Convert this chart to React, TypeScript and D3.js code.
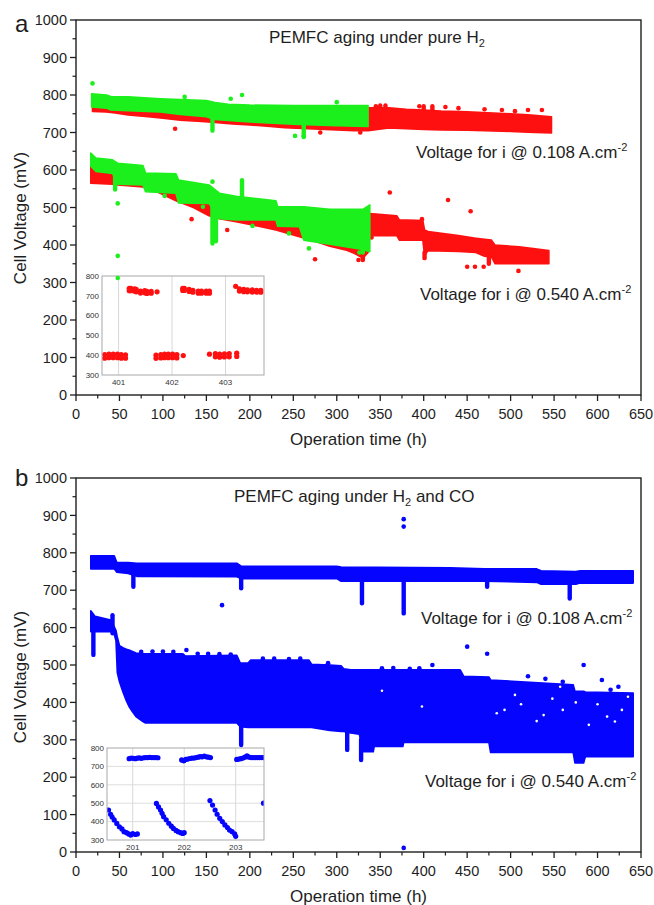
import React from 'react';
import * as d3 from 'd3';

type Band = [number, number, number][];
type Pt = [number, number][];

// ---------- tick values ----------
const X_TICKS = [0, 50, 100, 150, 200, 250, 300, 350, 400, 450, 500, 550, 600, 650];
const X_MINOR = [25, 75, 125, 175, 225, 275, 325, 375, 425, 475, 525, 575, 625];
const Y_TICKS = [0, 100, 200, 300, 400, 500, 600, 700, 800, 900, 1000];
const Y_MINOR = [50, 150, 250, 350, 450, 550, 650, 750, 850, 950];
const INSET_Y_TICKS = [300, 400, 500, 600, 700, 800];
const INSET_A_X_TICKS = [401, 402, 403];
const INSET_B_X_TICKS = [201, 202, 203];

// ---------- panel a : pure H2 (red = long run, green = second run) ----------
// [time h, lower mV, upper mV]
const redUpperA: Band = [
  [19, 756, 775], [35, 755, 775], [45, 752, 772], [60, 747, 770], [80, 743, 768],
  [100, 738, 765], [120, 733, 762], [140, 730, 760], [160, 727, 758], [180, 723, 756],
  [200, 720, 756], [220, 717, 755], [240, 713, 755], [260, 711, 755], [280, 709, 755],
  [300, 707, 755], [320, 705, 755], [336, 705, 766], [360, 712, 766], [380, 710, 762],
  [400, 708, 760], [420, 707, 757], [450, 706, 755], [480, 704, 752], [500, 703, 750],
  [520, 701, 747], [547, 699, 742],
];
const greenUpperA: Band = [
  [18, 768, 803], [35, 765, 800], [40, 760, 796], [60, 758, 795], [97, 755, 790],
  [120, 748, 788], [150, 742, 785], [160, 735, 780], [175, 732, 775], [200, 728, 773],
  [250, 722, 772], [300, 718, 772], [336, 716, 772],
];
const redLowerA: Band = [
  [17, 565, 615], [42, 562, 610], [48, 560, 600], [77, 555, 592], [95, 540, 575],
  [115, 518, 560], [135, 500, 545], [153, 478, 530], [165, 470, 520], [184, 462, 510],
  [210, 450, 500], [230, 440, 493], [257, 422, 476], [275, 410, 465], [292, 397, 450],
  [310, 387, 440], [320, 378, 432], [330, 365, 432], [336, 380, 440], [338, 425, 484],
  [369, 425, 478], [372, 413, 467], [399, 413, 465], [401, 372, 440], [405, 385, 436],
  [440, 383, 425], [460, 380, 418], [470, 370, 415], [478, 368, 413], [482, 350, 400],
  [510, 350, 395], [544, 350, 385],
];
const greenLowerA: Band = [
  [17, 610, 645], [23, 596, 632], [42, 591, 627], [48, 562, 618], [77, 560, 612],
  [80, 542, 592], [115, 538, 590], [118, 512, 573], [153, 511, 560], [165, 470, 538],
  [184, 467, 530], [230, 467, 518], [232, 450, 502], [257, 449, 502], [262, 413, 502],
  [292, 402, 495], [330, 388, 495], [338, 382, 507],
];
// vertical excursions [time, from mV, to mV]
const redSpikesA: Band = [
  [350, 740, 772], [356, 740, 772], [400, 740, 770], [410, 740, 770], [330, 360, 380],
  [401, 365, 380], [475, 350, 375],
];
const greenSpikesA: Band = [
  [157, 705, 745], [262, 688, 725], [45, 548, 600], [157, 404, 545], [161, 410, 530],
  [191, 520, 573], [330, 380, 400],
];
const redDotsA: Pt = [
  [114, 710], [281, 700], [327, 700], [520, 760], [536, 760], [133, 469], [174, 440],
  [275, 362], [361, 540], [428, 520], [454, 490], [398, 469], [340, 420], [373, 420],
  [450, 342], [459, 342], [469, 342], [509, 331], [325, 360], [345, 770], [395, 770],
  [425, 768], [440, 765], [470, 762], [490, 760], [505, 757],
];
const greenDotsA: Pt = [
  [19, 831], [178, 790], [191, 800], [300, 781], [252, 691], [262, 690], [125, 795],
  [48, 511], [48, 371], [48, 312], [157, 569], [102, 531], [146, 502], [203, 451],
  [245, 431], [268, 391], [326, 380],
];
// inset a (zoom on 401-403 h)
const insetARed: Pt = [
  [401.20, 738], [401.20, 726], [401.23, 738], [401.23, 726], [401.30, 735], [401.30, 723],
  [401.33, 732], [401.33, 720], [401.41, 724], [401.41, 714], [401.49, 726], [401.49, 715],
  [401.53, 722], [401.53, 712], [401.61, 722], [401.61, 713], [401.72, 720],
  [402.20, 738], [402.20, 727], [402.23, 738], [402.23, 727], [402.32, 733], [402.32, 722],
  [402.39, 728], [402.39, 718], [402.49, 724], [402.49, 713], [402.55, 724], [402.55, 713],
  [402.64, 724], [402.64, 713], [402.70, 724], [402.70, 713],
  [403.19, 748], [403.26, 735], [403.26, 724], [403.34, 732], [403.34, 721], [403.41, 730],
  [403.41, 720], [403.50, 730], [403.50, 719], [403.58, 728], [403.58, 718], [403.66, 728],
  [403.66, 718],
  [400.74, 403], [400.74, 385], [400.82, 405], [400.82, 387], [400.90, 405], [400.90, 387],
  [400.98, 405], [400.98, 387], [401.05, 403], [401.05, 385], [401.13, 402], [401.13, 385],
  [401.70, 400], [401.70, 384], [401.79, 403], [401.79, 386], [401.86, 405], [401.86, 387],
  [401.93, 405], [401.93, 387], [402.01, 405], [402.01, 387], [402.09, 403], [402.09, 386],
  [402.21, 398],
  [402.70, 405], [402.81, 408], [402.81, 392], [402.89, 406], [402.89, 390], [402.98, 407],
  [402.98, 391], [403.07, 408], [403.07, 392], [403.21, 410], [403.21, 394],
];

// ---------- panel b : H2 + CO ----------
const blueUpperB: Band = [
  [17, 757, 792], [44, 757, 792], [47, 748, 774], [60, 745, 774], [70, 737, 772],
  [185, 736, 772], [190, 731, 764], [300, 731, 764], [305, 724, 762], [430, 724, 760],
  [470, 724, 757], [530, 721, 757], [535, 716, 752], [575, 716, 750], [580, 719, 752],
  [641, 719, 752],
];
const blueLowerB: Band = [
  [17, 589, 645], [22, 589, 630], [40, 589, 620], [44, 582, 602], [46, 565, 592],
  [47.5, 480, 575], [50, 455, 552], [54, 428, 546], [58, 404, 542], [61, 389, 540],
  [65, 375, 536], [69, 362, 532], [77, 349, 530], [80, 345, 530], [123, 345, 530],
  [126, 345, 524], [185, 345, 526], [189, 335, 505], [198, 333, 505], [201, 333, 513],
  [268, 333, 513], [271, 333, 502], [292, 325, 500], [305, 322, 498], [308, 322, 490],
  [316, 318, 487], [326, 315, 487], [330, 268, 487], [342, 268, 487], [343, 282, 487],
  [376, 282, 487], [377, 293, 487], [442, 293, 487], [446, 293, 470], [475, 293, 468],
  [477, 266, 460], [572, 266, 447], [574, 238, 430], [584, 238, 430], [586, 255, 428],
  [641, 255, 425],
];
const blueSpikesB: Band = [
  [66, 709, 740], [190, 705, 735], [329, 665, 725], [377, 638, 725], [473, 709, 725],
  [568, 678, 720], [20, 527, 600], [42, 585, 633], [190, 286, 345], [312, 273, 322],
  [328, 246, 300],
];
const blueDotsB: Pt = [
  [377, 890], [377, 870], [377, 11], [168, 660], [127, 540], [450, 549], [473, 530],
  [410, 500], [584, 500], [605, 460], [624, 442],
  [75, 535], [88, 536], [100, 536], [112, 535], [140, 530], [152, 530], [165, 529],
  [178, 528], [215, 517], [228, 517], [245, 516], [258, 517], [290, 505], [352, 491],
  [365, 492], [384, 490], [395, 491], [520, 470], [540, 463], [560, 455], [615, 434],
];
const whiteHolesB: Pt = [
  [352, 431], [398, 389], [484, 371], [493, 380], [538, 366], [557, 442], [611, 362],
  [620, 349], [512, 395], [530, 350], [560, 380], [600, 395], [628, 380], [590, 340],
  [505, 420], [548, 410], [575, 400], [635, 415],
];
// inset b (zoom on 201-203 h)
const insetBBlue: Pt = [
  [200.93, 742], [200.97, 745], [201.01, 744], [201.05, 742], [201.09, 745], [201.13, 746],
  [201.17, 744], [201.21, 747], [201.25, 748], [201.29, 748], [201.33, 749], [201.37, 748],
  [201.41, 748], [201.45, 748], [201.49, 747],
  [201.95, 735], [201.99, 730], [202.03, 738], [202.07, 740], [202.11, 743], [202.15, 745],
  [202.19, 745], [202.23, 748], [202.27, 750], [202.31, 753], [202.35, 752], [202.39, 756],
  [202.43, 752], [202.47, 750], [202.51, 748],
  [203.02, 738], [203.06, 740], [203.10, 742], [203.14, 745], [203.18, 750], [203.22, 758],
  [203.26, 750], [203.30, 748], [203.34, 748], [203.38, 748], [203.42, 748], [203.46, 748],
  [203.50, 748], [203.54, 748],
  [200.53, 463], [200.57, 440], [200.60, 425], [200.64, 409], [200.69, 390], [200.74, 372],
  [200.79, 360], [200.83, 345], [200.88, 340], [200.92, 333], [200.96, 327], [201.00, 335],
  [201.05, 330], [201.09, 333],
  [201.46, 499], [201.50, 480], [201.54, 463], [201.57, 445], [201.60, 427], [201.65, 410],
  [201.70, 391], [201.75, 375], [201.79, 363], [201.84, 352], [201.88, 345], [201.93, 340],
  [201.97, 336], [202.00, 340],
  [202.50, 514], [202.55, 490], [202.60, 463], [202.64, 440], [202.69, 418], [202.74, 400],
  [202.79, 382], [202.84, 368], [202.88, 354], [202.93, 345], [202.98, 333], [203.00, 320],
  [203.54, 500],
];

// ---------- styling ----------
const RED = '#ff1010';
const GREEN = '#1cf01c';
const BLUE = '#0404ff';
const INK = '#1e1e1e';
const FONT = '"Liberation Sans", Arial, Helvetica, sans-serif';

const X_LEFT = 76;
const X_RIGHT = 641;

type Scale = d3.ScaleLinear<number, number>;

function BandPath({ data, x, y, color }: { data: Band; x: Scale; y: Scale; color: string }) {
  const area = d3
    .area<[number, number, number]>()
    .x((d) => x(d[0]))
    .y0((d) => y(d[1]))
    .y1((d) => y(d[2]))
    .curve(d3.curveLinear);
  return <path d={area(data) || ''} fill={color} stroke={color} strokeWidth={1.6} strokeLinejoin="round" />;
}

function Spikes({ data, x, y, color }: { data: Band; x: Scale; y: Scale; color: string }) {
  return (
    <g>
      {data.map((d, i) => (
        <line key={i} x1={x(d[0])} x2={x(d[0])} y1={y(d[1])} y2={y(d[2])} stroke={color} strokeWidth={4.4} strokeLinecap="round" />
      ))}
    </g>
  );
}

function Dots({ data, x, y, color, r }: { data: Pt; x: Scale; y: Scale; color: string; r: number }) {
  return (
    <g>
      {data.map((d, i) => (
        <circle key={i} cx={x(d[0])} cy={y(d[1])} r={r} fill={color} />
      ))}
    </g>
  );
}

function Axes({ x, y, top, bottom }: { x: Scale; y: Scale; top: number; bottom: number }) {
  return (
    <g fontFamily={FONT} fill={INK}>
      <rect x={X_LEFT} y={top} width={X_RIGHT - X_LEFT} height={bottom - top} fill="none" stroke={INK} strokeWidth={1.4} />
      {Y_TICKS.map((v) => (
        <g key={'y' + v}>
          <line x1={X_LEFT} x2={X_LEFT - 6} y1={y(v)} y2={y(v)} stroke={INK} strokeWidth={1.3} />
          <text x={X_LEFT - 9} y={y(v)} dy="0.36em" textAnchor="end" fontSize={14.5}>{v}</text>
        </g>
      ))}
      {Y_MINOR.map((v) => (
        <line key={'ym' + v} x1={X_LEFT} x2={X_LEFT - 3.5} y1={y(v)} y2={y(v)} stroke={INK} strokeWidth={1.2} />
      ))}
      {X_TICKS.map((v) => (
        <g key={'x' + v}>
          <line x1={x(v)} x2={x(v)} y1={bottom} y2={bottom + 6} stroke={INK} strokeWidth={1.3} />
          <text x={x(v)} y={bottom + 24} textAnchor="middle" fontSize={14.5}>{v}</text>
        </g>
      ))}
      {X_MINOR.map((v) => (
        <line key={'xm' + v} x1={x(v)} x2={x(v)} y1={bottom} y2={bottom + 3.5} stroke={INK} strokeWidth={1.2} />
      ))}
    </g>
  );
}

function Inset({
  id, x, y, left, right, top, bottom, xTicks, hGrid, points, color,
}: {
  id: string; x: Scale; y: Scale; left: number; right: number; top: number; bottom: number;
  xTicks: number[]; hGrid: boolean; points: Pt; color: string;
}) {
  return (
    <g fontFamily={FONT}>
      <defs>
        <clipPath id={id}>
          <rect x={left} y={top} width={right - left} height={bottom - top} />
        </clipPath>
      </defs>
      <rect x={left} y={top} width={right - left} height={bottom - top} fill="#fff" />
      {xTicks.map((v) => (
        <line key={'g' + v} x1={x(v)} x2={x(v)} y1={top} y2={bottom} stroke="#d4d4d4" strokeWidth={0.9} />
      ))}
      {hGrid &&
        INSET_Y_TICKS.slice(1, -1).map((v) => (
          <line key={'h' + v} x1={left} x2={right} y1={y(v)} y2={y(v)} stroke="#dadada" strokeWidth={0.9} />
        ))}
      <g clipPath={`url(#${id})`}>
        <Dots data={points} x={x} y={y} color={color} r={2.6} />
      </g>
      <rect x={left} y={top} width={right - left} height={bottom - top} fill="none" stroke="#a8a8a8" strokeWidth={1} />
      {INSET_Y_TICKS.map((v) => (
        <text key={'yl' + v} x={left - 3} y={y(v)} dy="0.35em" textAnchor="end" fontSize={8} fill="#333">{v}</text>
      ))}
      {xTicks.map((v) => (
        <text key={'xl' + v} x={x(v)} y={bottom + 10} textAnchor="middle" fontSize={8} fill="#333">{v}</text>
      ))}
    </g>
  );
}

export default function App() {
  const x = d3.scaleLinear().domain([0, 650]).range([X_LEFT, X_RIGHT]);
  const yA = d3.scaleLinear().domain([0, 1000]).range([395, 20]);
  const yB = d3.scaleLinear().domain([0, 1000]).range([852, 478]);

  const xInA = d3.scaleLinear().domain([400.69, 403.72]).range([102, 264]);
  const yInA = d3.scaleLinear().domain([300, 800]).range([375, 276]);
  const xInB = d3.scaleLinear().domain([200.5, 203.55]).range([107, 264]);
  const yInB = d3.scaleLinear().domain([300, 800]).range([840, 748]);

  const labelStyle = { fontFamily: FONT, fill: INK } as const;

  return (
    <svg width={654} height={905} viewBox="0 0 654 905" style={{ position: 'absolute', left: 0, top: 0, background: '#fff' }}>
      <rect x={0} y={0} width={654} height={905} fill="#fff" />

      {/* ---------------- panel a ---------------- */}
      <Inset id="clipA" x={xInA} y={yInA} left={102} right={264} top={276} bottom={375}
        xTicks={INSET_A_X_TICKS} hGrid={false} points={insetARed} color={RED} />
      <BandPath data={redUpperA} x={x} y={yA} color={RED} />
      <BandPath data={redLowerA} x={x} y={yA} color={RED} />
      <Spikes data={redSpikesA} x={x} y={yA} color={RED} />
      <Dots data={redDotsA} x={x} y={yA} color={RED} r={2.3} />
      <BandPath data={greenUpperA} x={x} y={yA} color={GREEN} />
      <BandPath data={greenLowerA} x={x} y={yA} color={GREEN} />
      <Spikes data={greenSpikesA} x={x} y={yA} color={GREEN} />
      <Dots data={greenDotsA} x={x} y={yA} color={GREEN} r={2.3} />
      <Axes x={x} y={yA} top={20} bottom={395} />

      <text x={15} y={32} fontSize={24} {...labelStyle}>a</text>
      <text x={269} y={43} fontSize={17} {...labelStyle}>
        PEMFC aging under pure H<tspan dy={4} fontSize={11}>2</tspan>
      </text>
      <text x={416} y={158} fontSize={17} {...labelStyle}>
        Voltage for i @ 0.108 A.cm<tspan dy={-7} fontSize={11}>-2</tspan>
      </text>
      <text x={420} y={300} fontSize={17} {...labelStyle}>
        Voltage for i @ 0.540 A.cm<tspan dy={-7} fontSize={11}>-2</tspan>
      </text>
      <text x={358.5} y={445} fontSize={17} textAnchor="middle" {...labelStyle}>Operation time (h)</text>
      <text transform="translate(26,218) rotate(-90)" fontSize={17} textAnchor="middle" {...labelStyle}>Cell Voltage (mV)</text>

      {/* ---------------- panel b ---------------- */}
      <Inset id="clipB" x={xInB} y={yInB} left={107} right={264} top={748} bottom={840}
        xTicks={INSET_B_X_TICKS} hGrid={true} points={insetBBlue} color={BLUE} />
      <BandPath data={blueUpperB} x={x} y={yB} color={BLUE} />
      <BandPath data={blueLowerB} x={x} y={yB} color={BLUE} />
      <Spikes data={blueSpikesB} x={x} y={yB} color={BLUE} />
      <Dots data={blueDotsB} x={x} y={yB} color={BLUE} r={2.3} />
      <Dots data={whiteHolesB} x={x} y={yB} color="#ffffff" r={1.3} />
      <Axes x={x} y={yB} top={478} bottom={852} />

      <text x={15} y={486} fontSize={24} {...labelStyle}>b</text>
      <text x={234} y={502} fontSize={17} {...labelStyle}>
        PEMFC aging under H<tspan dy={4} fontSize={11}>2</tspan><tspan dy={-4}> and CO</tspan>
      </text>
      <text x={421} y={624} fontSize={17} {...labelStyle}>
        Voltage for i @ 0.108 A.cm<tspan dy={-7} fontSize={11}>-2</tspan>
      </text>
      <text x={425} y={787} fontSize={17} {...labelStyle}>
        Voltage for i @ 0.540 A.cm<tspan dy={-7} fontSize={11}>-2</tspan>
      </text>
      <text x={358.5} y={902} fontSize={17} textAnchor="middle" {...labelStyle}>Operation time (h)</text>
      <text transform="translate(26,677) rotate(-90)" fontSize={17} textAnchor="middle" {...labelStyle}>Cell Voltage (mV)</text>
    </svg>
  );
}
